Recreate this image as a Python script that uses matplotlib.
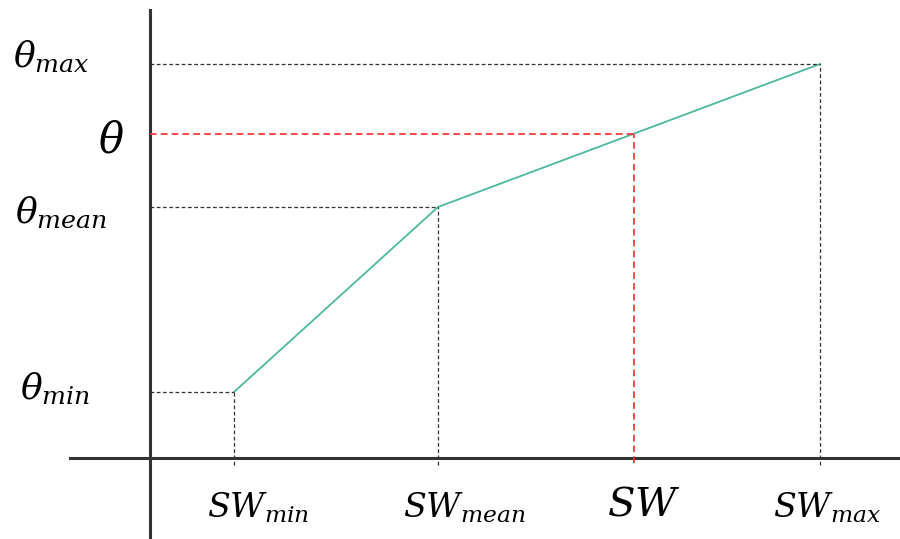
import numpy as np
import matplotlib.pyplot as plt

plt.rcParams['mathtext.fontset'] = 'custom'
plt.rcParams['mathtext.it'] = 'DejaVu Serif:italic'
plt.rcParams['mathtext.rm'] = 'DejaVu Serif'

# piecewise linear relation between SW and theta (arbitrary units)
sw_pts = [0.84, 2.88, 6.70]        # SW_min, SW_mean, SW_max
theta_pts = [0.66, 2.51, 3.94]     # theta_min, theta_mean, theta_max
sw_val = 4.84                      # example SW
theta_val = np.interp(sw_val, sw_pts, theta_pts)

sw_labels = [r'$SW_{min}$', r'$SW_{mean}$', r'$SW_{max}$']
theta_labels = [r'$\theta_{min}$', r'$\theta_{mean}$', r'$\theta_{max}$']

fig = plt.figure(figsize=(9, 5.39), dpi=100)
ax = fig.add_axes([0, 0, 1, 1])
ax.set_xlim(-1.5, 7.5)
ax.set_ylim(-0.81, 4.58)
ax.axis('off')

# axes lines
ax.plot([0, 0], [-0.81, 4.48], color='#333333', lw=2.2)
ax.plot([-0.8, 7.5], [0, 0], color='#333333', lw=2.2)

# curve
ax.plot(sw_pts, theta_pts, color='#4cb89e', lw=1.3)

# guide lines
for x, y in zip(sw_pts, theta_pts):
    ax.plot([0, x], [y, y], color='#333333', lw=0.9, dashes=(3, 2))
    ax.plot([x, x], [-0.07, y], color='#333333', lw=0.9, dashes=(3, 2))
ax.plot([0, sw_val], [theta_val, theta_val], color='#ff2a2a', lw=1.2, dashes=(4, 2.5))
ax.plot([sw_val, sw_val], [-0.05, theta_val], color='#ff2a2a', lw=1.2, dashes=(4, 2.5))

# labels
theta_x = [-1.30, -1.35, -1.37]
theta_y = [0.58, 2.35, 3.91]
for x, y, lab in zip(theta_x, theta_y, theta_labels):
    ax.text(x, y, lab, fontsize=26, ha='left', va='baseline')
ax.text(-0.52, 3.06, r'$\theta$', fontsize=30, ha='left', va='baseline')

sw_x = [0.57, 2.53, 6.23]
for x, lab in zip(sw_x, sw_labels):
    ax.text(x, -0.60, lab, fontsize=24, ha='left', va='baseline')
ax.text(4.57, -0.57, r'$SW$', fontsize=29, ha='left', va='baseline')

fig.savefig('out.png', dpi=100)
